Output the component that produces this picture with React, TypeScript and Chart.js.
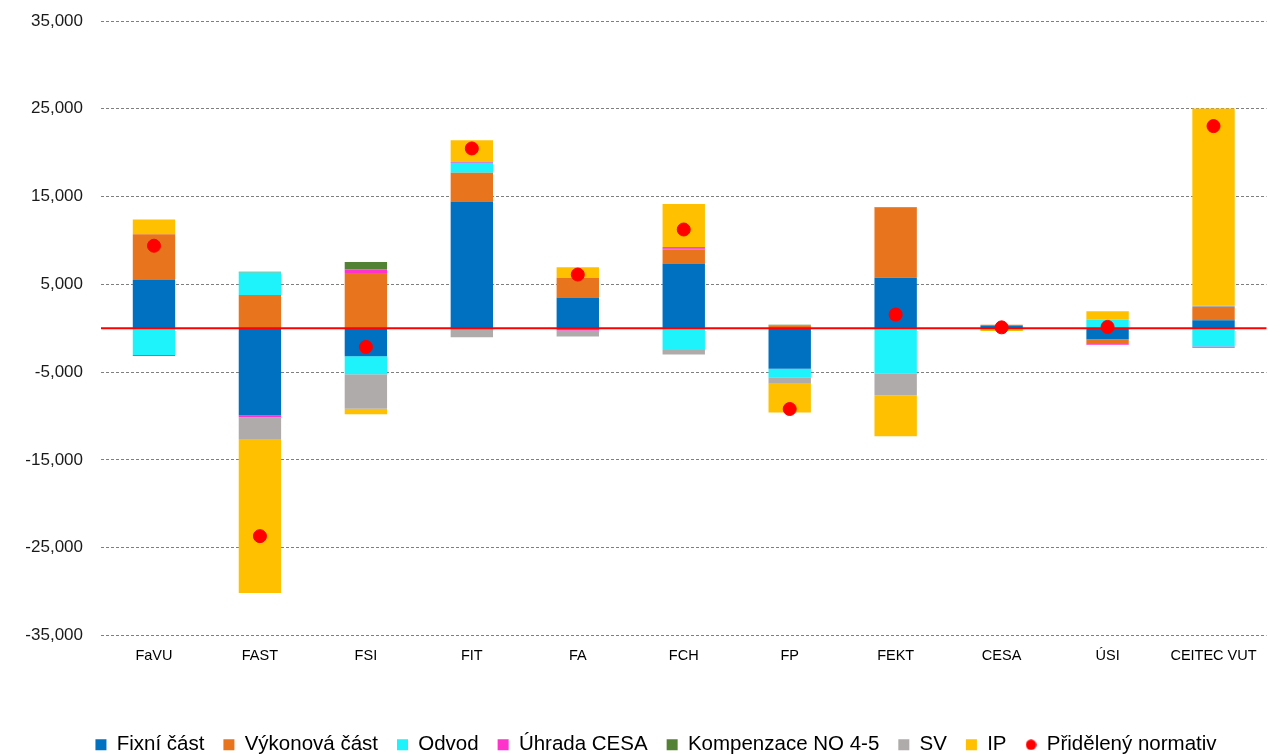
import React, { useEffect, useRef } from "react";
import { Chart, registerables } from "chart.js";

Chart.register(...registerables);

const categories = ["FaVU", "FAST", "FSI", "FIT", "FA", "FCH", "FP", "FEKT", "CESA", "ÚSI", "CEITEC VUT"];
const fixniCast = [5500, -9950, -3190, 14440, 3500, 7370, -4600, 5740, 250, -1250, 910];
const vykonovaCast = [5200, 3800, 6300, 3260, 2240, 1600, 300, 8020, 150, -540, 1520];
const odvod = [-3050, 2550, -2050, 1140, 0, -2470, -990, -5130, 0, 990, -2090];
const uhradaCesa = [-100, -200, 430, 100, -250, 150, 0, 0, 0, -100, -120];
const kompenzace = [0, 100, 830, 0, 0, 100, 100, 60, 0, 0, 0];
const sv = [0, -2550, -3920, -1030, -700, -530, -720, -2510, 0, 0, 150];
const ip = [1700, -17450, -650, 2480, 1220, 4930, -3300, -4670, -300, 950, 22460];
const prideleny = [9400, -23680, -2130, 20480, 6120, 11250, -9200, 1560, 100, 150, 23030];
const yTicks = [-35000, -25000, -15000, -5000, 5000, 15000, 25000, 35000];

const FONT = "'Liberation Sans', Arial, sans-serif";

const zeroLinePlugin = {
  id: "zeroLine",
  beforeDatasetDraw(chart: any, args: any) {
    if (args.index !== 7) return;
    const y = chart.scales.y.getPixelForValue(0);
    const { left, right } = chart.chartArea;
    const ctx = chart.ctx;
    ctx.save();
    ctx.strokeStyle = "#FF0000";
    ctx.lineWidth = 2;
    ctx.beginPath();
    ctx.moveTo(left, y);
    ctx.lineTo(right, y);
    ctx.stroke();
    ctx.restore();
  },
};

const legendShiftPlugin = {
  id: "legendShift",
  afterLayout(chart: any) {
    const lg = chart.legend;
    if (!lg) return;
    const dx = 19;
    const dy = 11;
    lg.left += dx;
    lg.right += dx;
    lg.top += dy;
    lg.bottom += dy;
  },
};

function makeDot(): HTMLCanvasElement {
  const c = document.createElement("canvas");
  c.width = 11;
  c.height = 11;
  const g = c.getContext("2d");
  if (g) {
    g.fillStyle = "#FF0000";
    g.beginPath();
    g.arc(5.5, 5.5, 5.2, 0, Math.PI * 2);
    g.fill();
  }
  return c;
}

export default function App() {
  const ref = useRef<HTMLCanvasElement | null>(null);
  useEffect(() => {
    if (!ref.current) return;
    const dot = makeDot();
    const bar = (label: string, data: number[], color: string) => ({
      type: "bar" as const,
      label,
      data,
      backgroundColor: color,
      borderWidth: 0,
      stack: "s",
      order: 1,
      barPercentage: 0.4,
      categoryPercentage: 1,
    });
    const chart = new Chart(ref.current, {
      type: "bar",
      data: {
        labels: categories,
        datasets: [
          bar("Fixní část", fixniCast, "#0070C0"),
          bar("Výkonová část", vykonovaCast, "#E8741E"),
          bar("Odvod", odvod, "#1EF2FA"),
          bar("Úhrada CESA", uhradaCesa, "#FF33CC"),
          bar("Kompenzace NO 4-5", kompenzace, "#548235"),
          bar("SV", sv, "#AFABAB"),
          bar("IP", ip, "#FFC000"),
          {
            type: "line" as const,
            label: "Přidělený normativ",
            data: prideleny,
            showLine: false,
            pointRadius: 6.5,
            pointHoverRadius: 6.5,
            pointBackgroundColor: "#FF0000",
            pointBorderColor: "#FF0000",
            borderColor: "#FF0000",
            backgroundColor: "#FF0000",
            pointStyle: "circle",
            order: 0,
          } as any,
        ],
      },
      options: {
        animation: false,
        responsive: true,
        maintainAspectRatio: false,
        layout: { padding: { left: 0, right: 0, top: 21, bottom: 0 } },
        plugins: {
          tooltip: { enabled: false },
          legend: {
            position: "bottom",
            labels: {
              usePointStyle: true,
              pointStyleWidth: 11,
              boxHeight: 11,
              padding: 19,
              color: "#000",
              font: { family: FONT, size: 20.5 },
              generateLabels(chart: any) {
                return chart.data.datasets.map((ds: any, i: number) => ({
                  text: ds.label,
                  fillStyle: ds.backgroundColor,
                  strokeStyle: ds.backgroundColor,
                  lineWidth: 0,
                  pointStyle: i === 7 ? dot : "rect",
                  hidden: false,
                  datasetIndex: i,
                  fontColor: "#000",
                }));
              },
            },
          },
        },
        scales: {
          x: {
            stacked: true,
            grid: { display: false },
            border: { display: false },
            ticks: { color: "#000", font: { family: FONT, size: 14.5 }, padding: 4, maxRotation: 0, autoSkip: false },
            afterFit(s: any) { s.height = 69; },
          },
          y: {
            stacked: true,
            min: -35000,
            max: 35000,
            afterFit(s: any) {
              s.width = 101;
              s.paddingTop = 0;
              s.paddingBottom = 0;
            },
            afterBuildTicks(s: any) { s.ticks = yTicks.map((v) => ({ value: v })); },
            grid: { color: "#7F7F7F", drawTicks: false },
            border: { display: false, dash: [3, 2] },
            ticks: {
              color: "#1a1a1a",
              font: { family: FONT, size: 17 },
              padding: 18,
              callback: (v: any) => Number(v).toLocaleString("en-US"),
            },
          },
        },
      },
      plugins: [zeroLinePlugin, legendShiftPlugin],
    } as any);
    return () => chart.destroy();
  }, []);
  return (
    <div style={{ position: "fixed", left: 0, top: 0, width: 1274, height: 754 }}>
      <canvas ref={ref} />
    </div>
  );
}
